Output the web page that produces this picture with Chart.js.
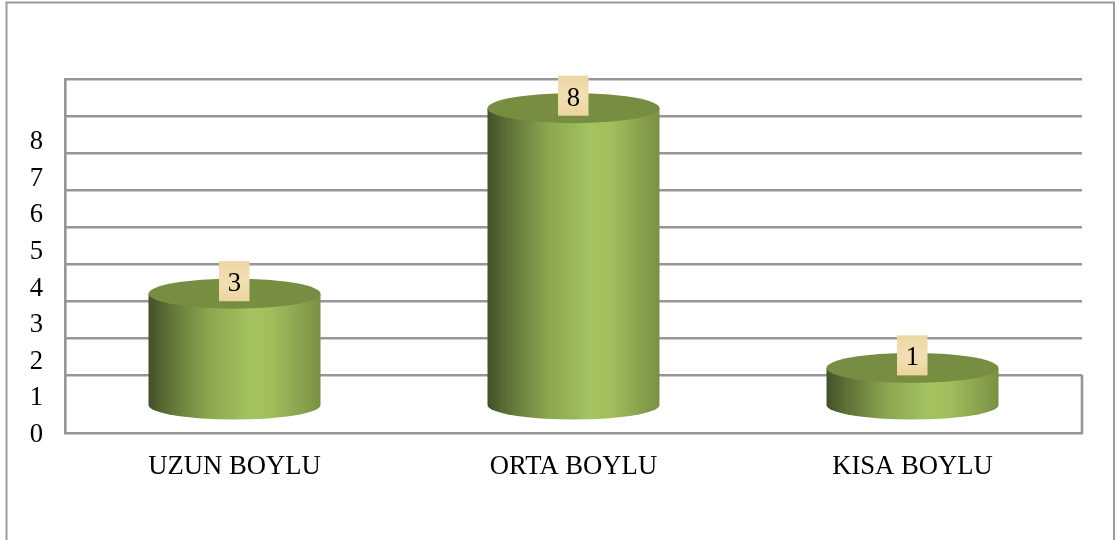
<!DOCTYPE html>
<html>
<head>
<meta charset="utf-8">
<style>
html,body{margin:0;padding:0;background:#fff;overflow:hidden}
#wrap{position:relative;width:1115px;height:540px}
canvas{filter:blur(0.35px)}
</style>
<script src="https://cdn.jsdelivr.net/npm/chart.js@4"></script>
</head>
<body>
<div id="wrap"><canvas id="c" width="1115" height="540"></canvas></div>
<script>
const categories = ["UZUN BOYLU", "ORTA BOYLU", "KISA BOYLU"];
const values = [3, 8, 1];
const tickLabels = ["0", "1", "2", "3", "4", "5", "6", "7", "8"];

const FONT = '"Liberation Serif", "Times New Roman", serif';
const FS = 26.67;
const LINE = '#969696';
const LINE_W = 2.6;
const BAR_PCT = 172 / 339;

function sideGradient(ctx, left, right) {
  const g = ctx.createLinearGradient(left, 0, right, 0);
  g.addColorStop(0, '#42502a');
  g.addColorStop(0.12, '#5f7237');
  g.addColorStop(0.35, '#8aa64f');
  g.addColorStop(0.60, '#a4c460');
  g.addColorStop(0.72, '#9fbe5c');
  g.addColorStop(1, '#7a9044');
  return g;
}

const cylinders = {
  id: 'cylinders',
  beforeDatasetsDraw(chart) {
    const c = chart.ctx, a = chart.chartArea;
    c.save();
    c.strokeStyle = LINE;
    c.lineWidth = LINE_W;
    c.beginPath();
    c.moveTo(a.right, chart.scales.yGrid.getPixelForValue(1));
    c.lineTo(a.right, a.bottom);
    c.stroke();
    c.strokeStyle = '#9c9c9c';
    c.lineWidth = 2;
    c.beginPath();
    c.moveTo(6.5, 540);
    c.lineTo(6.5, 2.5);
    c.lineTo(1114, 2.5);
    c.lineTo(1114, 540);
    c.stroke();
    c.restore();
  },
  afterDatasetsDraw(chart) {
    const c = chart.ctx;
    const els = chart.getDatasetMeta(0).data;
    c.save();
    els.forEach((el, i) => {
      const rx = el.width / 2;
      c.fillStyle = sideGradient(c, el.x - rx, el.x + rx);
      c.beginPath();
      c.ellipse(el.x, el.base, rx, 14.5, 0, 0, Math.PI);
      c.fill();
      c.fillStyle = '#768d42';
      c.beginPath();
      c.ellipse(el.x, el.y, rx, 15, 0, 0, Math.PI * 2);
      c.fill();
      const bx = el.x - 15.5, by = el.y - 32.5, bw = 30.5, bh = 40;
      const g = c.createLinearGradient(0, by, 0, by + bh);
      g.addColorStop(0, '#ecd6a4');
      g.addColorStop(0.5, '#f1dfb4');
      g.addColorStop(1, '#ecd49c');
      c.fillStyle = g;
      c.fillRect(bx, by, bw, bh);
      c.fillStyle = '#000';
      c.font = FS + 'px ' + FONT;
      c.textAlign = 'center';
      c.textBaseline = 'middle';
      c.fillText(String(values[i]), el.x, by + bh / 2 + 3);
    });
    c.restore();
  }
};

new Chart(document.getElementById('c'), {
  type: 'bar',
  data: {
    labels: categories,
    datasets: [{
      data: values,
      yAxisID: 'yBars',
      barPercentage: 1,
      categoryPercentage: BAR_PCT,
      borderWidth: 0,
      backgroundColor(ctx) {
        const x = ctx.chart.scales.x;
        if (!x || ctx.dataIndex === undefined || !ctx.chart.chartArea) return '#8aa64f';
        const cx = x.getPixelForValue(ctx.dataIndex);
        if (!Number.isFinite(cx)) return '#8aa64f';
        return sideGradient(ctx.chart.ctx, cx - 86, cx + 86);
      }
    }]
  },
  plugins: [cylinders],
  options: {
    responsive: false,
    animation: false,
    layout: { padding: { top: 79, right: 33, left: 0, bottom: 0 } },
    plugins: { legend: { display: false }, tooltip: { enabled: false } },
    scales: {
      x: {
        afterFit(s) { s.height = 107; },
        grid: { display: false, drawTicks: false },
        border: { display: true, color: LINE, width: LINE_W },
        ticks: { color: '#000', padding: 21, maxRotation: 0, font: { family: FONT, size: FS, lineHeight: 1 } }
      },
      y: {
        min: 0.0546,
        max: 9.727,
        position: 'left',
        afterFit(s) { s.width = 65; },
        afterBuildTicks(s) {
          s.ticks = tickLabels.map(t => ({ value: Number(t) }));
        },
        grid: { display: false, drawTicks: false },
        border: { display: true, color: LINE, width: LINE_W },
        ticks: {
          color: '#000', padding: 22, autoSkip: false,
          font: { family: FONT, size: FS, lineHeight: 1 },
          callback(v) { return String(v); }
        }
      },
      yGrid: {
        min: -0.5676,
        max: 9,
        position: 'left',
        afterFit(s) { s.width = 0; },
        afterBuildTicks(s) {
          s.ticks = s.ticks.filter(t => t.value >= 1 && Number.isInteger(t.value));
        },
        grid: { color: LINE, lineWidth: LINE_W, drawTicks: false },
        border: { display: false },
        ticks: { display: false, stepSize: 1 }
      },
      yBars: {
        min: -0.755,
        max: 8.787,
        display: false
      }
    }
  }
});
</script>
</body>
</html>
